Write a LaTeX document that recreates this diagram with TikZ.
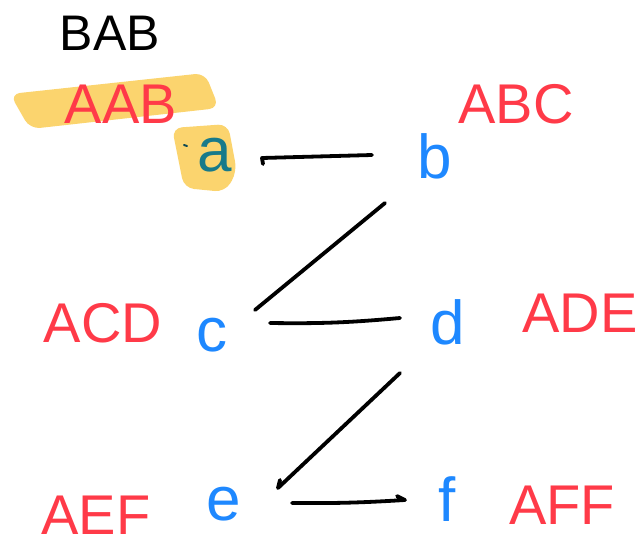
\documentclass[tikz,border=0pt]{standalone}
\usepackage{fontspec}
\setmainfont{Liberation Sans}
\usetikzlibrary{calc}
\definecolor{redink}{RGB}{255,58,72}
\definecolor{blueink}{RGB}{30,136,255}
\definecolor{tealink}{RGB}{24,122,138}
\definecolor{hl}{RGB}{250,205,85}
\tikzset{
  redlbl/.style={text=redink, inner sep=0pt, font=\fontsize{56}{60}\selectfont},
  blklbl/.style={text=black, inner sep=0pt, font=\fontsize{50}{54}\selectfont},
  vert/.style={text=blueink, inner sep=0pt, font=\fontsize{62}{66}\selectfont},
  stroke/.style={line width=3.8pt, line cap=round, line join=round, draw=black},
  hilite/.style={fill=hl, draw=none, rounded corners=10pt, opacity=0.85}
}
\begin{document}
\begin{tikzpicture}[x=1pt,y=-1pt]
\useasboundingbox (0,0) rectangle (641,546);
% highlights
\fill[hilite] (10,94) -- (205,73) -- (219,108) -- (30,129) -- cycle;
\fill[hilite] (172,128) -- (228,124) -- (237,172) -- (225,192) -- (184,188) -- cycle;
% labels
\node[blklbl] (bab) at (110,33) {BAB};
\node[redlbl] (aab) at (121,104) {AAB};
\node[redlbl] (abc) at (516,104) {ABC};
\node[redlbl] (acd) at (103,323) {ACD};
\node[redlbl] (ade) at (580,313) {ADE};
\node[redlbl] (aef) at (96,515) {AEF};
\node[redlbl] (aff) at (562,505) {AFF};
% vertices
\node[vert, text=tealink] (a) at (215,155) {a};
\node[vert] (b) at (435,156) {b};
\node[vert] (c) at (212,335) {c};
\node[vert] (d) at (448,322) {d};
\node[vert] (e) at (224,504) {e};
\node[vert] (f) at (447,499) {f};
% small mark near a
\draw[line width=2pt, line cap=round, tealink!60!black] ($(a.center)+(-31,-10)$) -- ++(3,1);
% connectors
\draw[stroke] ($(b.center)+(-63,-1)$) -- ($(a.center)+(47,3)$) -- ++(1,6);
\draw[stroke] ($(b.center)+(-50,47)$) -- ($(c.center)+(43,-25)$);
\draw[stroke] ($(c.center)+(58,-12)$) to[bend right=3] ($(d.center)+(-48,-4)$);
\draw[stroke] ($(d.center)+(-48,51)$) -- ($(e.center)+(54,-16)$) -- ++(2,-8);
\draw[stroke] ($(e.center)+(68,-1)$) to[bend right=2] ($(f.center)+(-42,1)$) -- ++(-8,-4);
\end{tikzpicture}
\end{document}
